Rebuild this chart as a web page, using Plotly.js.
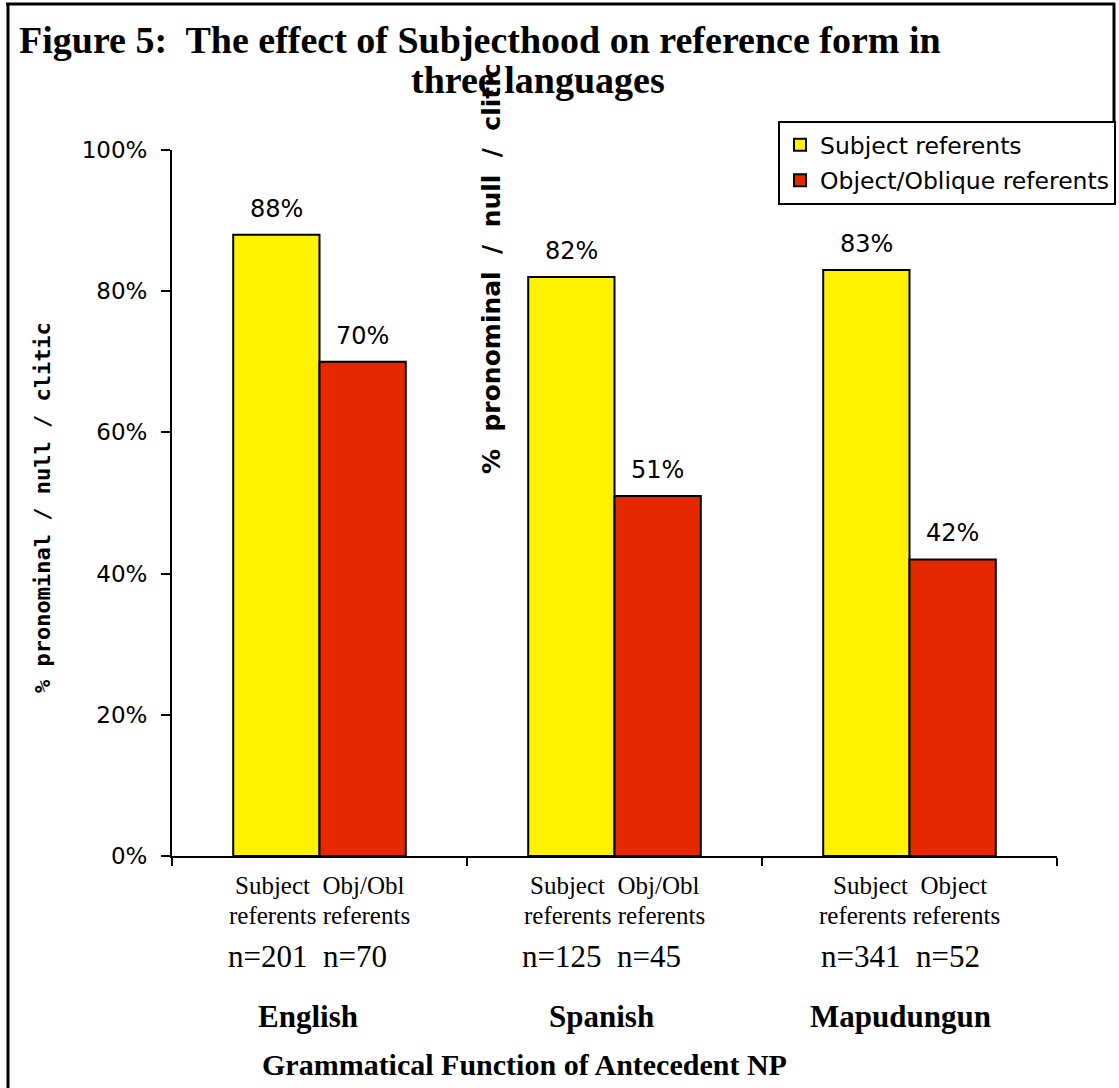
<!DOCTYPE html>
<html>
<head>
<meta charset="utf-8">
<script src="https://cdn.plot.ly/plotly-3.0.1.min.js"></script>
<style>html,body{margin:0;padding:0;background:#fff;}#chart{width:1119px;height:1088px;}</style>
</head>
<body>
<div id="chart"></div>
<script>
// ---- data ----
const languages = ["English", "Spanish", "Mapudungun"];
const subjectValues = [0.88, 0.82, 0.83];
const objectValues = [0.70, 0.51, 0.42];
const subjectCounts = ["n=201", "n=125", "n=341"];
const objectCounts = ["n=70", "n=45", "n=52"];
const subjectLabels = ["Subject", "Subject", "Subject"];
const objectLabels = ["Obj/Obl", "Obj/Obl", "Object"];
const seriesNames = ["Subject referents", "Object/Oblique referents"];
const yTickVals = [0, 0.2, 0.4, 0.6, 0.8, 1.0];
const titleLine1 = "Figure 5:  The effect of Subjecthood on reference form in";
const titleLine2 = "three languages";
const xTitle = "Grammatical Function of Antecedent NP";
const yTitle = "% pronominal / null / clitic";
const yTitleGhost = "%  pronominal  /  null  /  clitic";

// ---- layout helpers ----
const xIdx = languages.map((_, i) => i);
const boundaries = [-0.5, 0.5, 1.5, 2.5];
const BARGAP = 0.415;
const half = (1 - BARGAP) / 4;   // offset of each bar centre from its group centre
const pct = v => Math.round(v * 100) + "%";

const traces = [
  {type: "bar", name: seriesNames[0], x: xIdx, y: subjectValues,
   marker: {color: "#FFF200", line: {color: "#000", width: 2}},
   legendgroup: "a", hoverinfo: "skip"},
  {type: "bar", name: seriesNames[1], x: xIdx, y: objectValues,
   marker: {color: "#E62800", line: {color: "#000", width: 2}},
   legendgroup: "b", hoverinfo: "skip"}
];

const W = 1119, H = 1088, ml = 172, mr = 62, mt = 150, mb = 232;
const pw = W - ml - mr, ph = H - mt - mb;
const px = x => (x - ml) / pw;
const py = y => (H - mb - y) / ph;

const serif = "Liberation Serif, Times New Roman, serif";
const sans = "DejaVu Sans, Verdana, sans-serif";
const blk = "#000";
const labelShift = [-12, -13, -9];  // small horizontal offsets of the lower text rows
const annotations = [];

// value labels above bars
[subjectValues, objectValues].forEach((vals, s) => {
  vals.forEach((v, i) => {
    annotations.push({xref: "x", yref: "y", x: i + (s === 0 ? -half : half), y: v,
      xanchor: "center", yanchor: "bottom", yshift: 10, showarrow: false,
      text: pct(v), font: {family: sans, size: 24, color: blk}});
  });
});

languages.forEach((lang, i) => {
  annotations.push({xref: "x", yref: "paper", x: i, y: py(885), xanchor: "center", yanchor: "middle", showarrow: false,
    text: subjectLabels[i] + "  " + objectLabels[i], font: {family: serif, size: 25, color: blk}});
  annotations.push({xref: "x", yref: "paper", x: i, y: py(915), xanchor: "center", yanchor: "middle", showarrow: false,
    text: "referents referents", font: {family: serif, size: 25, color: blk}});
  annotations.push({xref: "x", yref: "paper", x: i, xshift: labelShift[i], y: py(956), xanchor: "center", yanchor: "middle", showarrow: false,
    text: subjectCounts[i] + "  " + objectCounts[i], font: {family: serif, size: 31, color: blk}});
  annotations.push({xref: "x", yref: "paper", x: i, xshift: labelShift[i], y: py(1016), xanchor: "center", yanchor: "middle", showarrow: false,
    text: "<b>" + lang + "</b>", font: {family: serif, size: 31, color: blk}});
});
annotations.push({xref: "paper", yref: "paper", x: px(524), y: py(1064), xanchor: "center", yanchor: "middle", showarrow: false,
  text: "<b>" + xTitle + "</b>", font: {family: serif, size: 30, color: blk}});
annotations.push({xref: "paper", yref: "paper", x: px(17), xanchor: "left", y: py(40), yanchor: "middle", showarrow: false,
  text: "<b>" + titleLine1 + "</b>", font: {family: serif, size: 38, color: blk}});
annotations.push({xref: "paper", yref: "paper", x: px(538), xanchor: "center", y: py(80), yanchor: "middle", showarrow: false,
  text: "<b>" + titleLine2 + "</b>", font: {family: serif, size: 38, color: blk}});
annotations.push({xref: "paper", yref: "paper", x: px(43), xanchor: "center", y: py(508), yanchor: "middle", showarrow: false, textangle: -90,
  text: "<b>" + yTitle + "</b>", font: {family: "DejaVu Sans Mono, monospace", size: 22, color: blk}});
annotations.push({xref: "paper", yref: "paper", x: px(491), xanchor: "center", y: py(269), yanchor: "middle", showarrow: false, textangle: -90,
  text: "<b>" + yTitleGhost + "</b>", font: {family: sans, size: 25, color: blk}});

const frame = {color: blk, width: 3};
const shapes = [
  {type: "line", xref: "paper", yref: "paper", x0: px(6), x1: px(1115), y0: py(4), y1: py(4), line: frame},
  {type: "line", xref: "paper", yref: "paper", x0: px(8), x1: px(8), y0: py(3), y1: py(1095), line: frame},
  {type: "line", xref: "paper", yref: "paper", x0: px(1114), x1: px(1114), y0: py(3), y1: py(196), line: frame}
];

const layout = {
  width: W, height: H,
  margin: {l: ml, r: mr, t: mt, b: mb, pad: 0, autoexpand: false},
  paper_bgcolor: "#fff", plot_bgcolor: "#fff",
  showlegend: true,
  barmode: "group", bargap: BARGAP, bargroupgap: 0,
  xaxis: {range: [-0.5, 2.5], tickvals: boundaries, showticklabels: false, ticks: "outside",
    ticklen: 8, tickwidth: 2, tickcolor: blk, showline: true, linecolor: blk, linewidth: 2,
    showgrid: false, zeroline: false, fixedrange: true, automargin: false},
  xaxis2: {overlaying: "x", anchor: "y", range: [-0.5, 2.5], tickvals: boundaries, showticklabels: false,
    ticks: "inside", ticklen: 8, tickwidth: 2, tickcolor: blk, showline: false, showgrid: false, zeroline: false, side: "bottom"},
  yaxis: {range: [0, 1], tickvals: yTickVals, tickformat: ".0%", ticks: "outside", ticklen: 9, tickwidth: 2,
    tickcolor: blk, showline: true, linecolor: blk, linewidth: 2, showgrid: false, zeroline: false,
    tickfont: {family: sans, size: 23, color: blk}, ticklabelstandoff: 9, fixedrange: true, automargin: false},
  yaxis2: {overlaying: "y", anchor: "x", side: "left", range: [0, 1], tickvals: yTickVals, showticklabels: false,
    ticks: "inside", ticklen: 8, tickwidth: 2, tickcolor: blk, showline: false, showgrid: false, zeroline: false},
  legend: {x: px(1116), xanchor: "right", y: py(121), yanchor: "top", bordercolor: blk, borderwidth: 2,
    bgcolor: "#fff", font: {family: sans, size: 23.5, color: blk}, traceorder: "grouped",
    tracegroupgap: 2, itemwidth: 30},
  annotations: annotations,
  shapes: shapes
};

Plotly.newPlot("chart", traces, layout, {displayModeBar: false, staticPlot: true});
</script>
</body>
</html>
